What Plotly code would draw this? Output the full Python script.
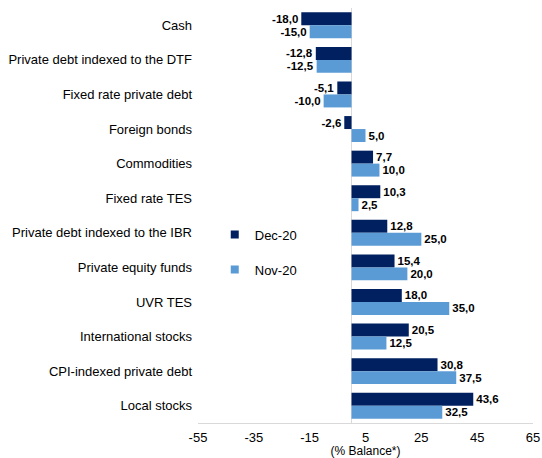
import plotly.graph_objects as go

categories = [
    "Cash",
    "Private debt indexed to the DTF",
    "Fixed rate private debt",
    "Foreign bonds",
    "Commodities",
    "Fixed rate TES",
    "Private debt indexed to the IBR",
    "Private equity funds",
    "UVR TES",
    "International stocks",
    "CPI-indexed private debt",
    "Local stocks",
]
dec_20 = [-18.0, -12.8, -5.1, -2.6, 7.7, 10.3, 12.8, 15.4, 18.0, 20.5, 30.8, 43.6]
nov_20 = [-15.0, -12.5, -10.0, 5.0, 10.0, 2.5, 25.0, 20.0, 35.0, 12.5, 37.5, 32.5]
x_ticks = [-55, -35, -15, 5, 25, 45, 65]

DARK = "#002060"
LIGHT = "#5B9BD5"
FONT = "Liberation Sans, Arial, sans-serif"

series = [("Dec-20", dec_20, DARK, "a"), ("Nov-20", nov_20, LIGHT, "b")]

fig = go.Figure()
for name, vals, color, grp in series:
    fig.add_trace(go.Bar(
        name=name,
        y=categories,
        x=vals,
        orientation="h",
        marker=dict(color=color, line=dict(width=0)),
        texttemplate="<b>%{x:.1f}</b>",
        textposition="outside",
        textfont=dict(size=11.5, color="#000000", family=FONT),
        cliponaxis=False,
        legendgroup=grp,
        showlegend=False,
    ))

# Small square legend keys
for name, vals, color, grp in series:
    fig.add_trace(go.Scatter(
        name=name,
        x=[None],
        y=[None],
        mode="markers",
        marker=dict(symbol="square", size=8, color=color),
        legendgroup=grp,
        showlegend=True,
    ))

fig.update_layout(
    width=542,
    height=458,
    margin=dict(l=198, r=9, t=8, b=35, autoexpand=False),
    paper_bgcolor="white",
    plot_bgcolor="white",
    barmode="group",
    bargap=0.25,
    bargroupgap=0,
    separators=",.",
    font=dict(family=FONT, size=13, color="#000000"),
    showlegend=True,
    legend=dict(
        x=0.05, y=0.49, xanchor="left", yanchor="top",
        bgcolor="rgba(0,0,0,0)",
        font=dict(size=13, family=FONT),
        tracegroupgap=15,
        itemwidth=30,
    ),
    xaxis=dict(
        range=[-55, 65],
        tickvals=x_ticks,
        ticktext=[str(v) for v in x_ticks],
        showgrid=False,
        zeroline=True,
        zerolinecolor="#D9D9D9",
        zerolinewidth=1,
        showline=True,
        linecolor="#D9D9D9",
        linewidth=1,
        ticks="",
        ticklabelstandoff=2,
        automargin=False,
        tickfont=dict(size=13),
        title=dict(text="(% Balance*)", font=dict(size=12), standoff=4),
    ),
    yaxis=dict(
        autorange="reversed",
        showgrid=False,
        showline=False,
        ticks="",
        automargin=False,
        ticklabelstandoff=5,
        tickfont=dict(size=13),
    ),
)

fig.write_html("out.html")
